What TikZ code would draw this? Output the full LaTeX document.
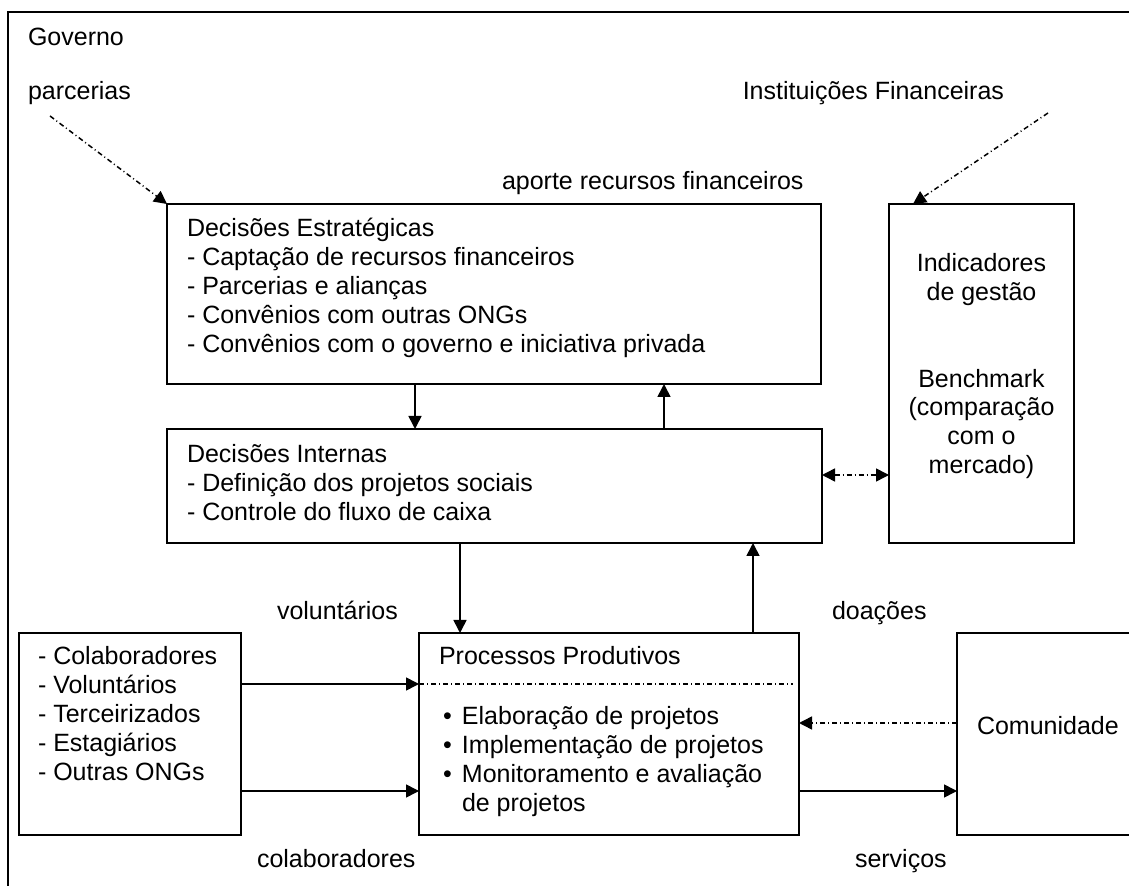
\documentclass[tikz,border=0pt]{standalone}
\usepackage{fontspec}
\setmainfont{Liberation Sans}
\usetikzlibrary{arrows.meta,calc}
\newdimen\pxu \pxu=0.5pt
\begin{document}
\begin{tikzpicture}[x=0.5pt,y=-0.5pt,
  font=\fontsize{12.5pt}{14.4pt}\selectfont,
  box/.style={draw, line width=1pt, inner sep=0pt, outer sep=0pt, anchor=north west},
  txt/.style={inner sep=0pt, outer sep=0pt, anchor=base west},
  ctxt/.style={inner sep=0pt, outer sep=0pt, anchor=base},
  arr/.style={line width=0.8pt, -{Triangle[length=6.5pt,width=6.5pt]}},
  dashdot/.style={line width=0.75pt, dash pattern=on 2.5pt off 1.5pt on 0.5pt off 1.5pt},
  dda/.style={dashdot, -{Triangle[length=6.5pt,width=6.5pt]}},
  ddb/.style={dashdot, {Triangle[length=6.5pt,width=6.5pt]}-{Triangle[length=6.5pt,width=6.5pt]}}]
\useasboundingbox (0,0) rectangle (1129,886);
% outer frame (left and top sides only)
\draw[line width=1pt] (8,886) -- (8,12) -- (1129,12);

% boxes
\node[box, minimum width=654\pxu, minimum height=180\pxu] (de) at (167,204) {};
\node[box, minimum width=655\pxu, minimum height=114\pxu] (di) at (167,429) {};
\node[box, minimum width=185\pxu, minimum height=339\pxu] (ind) at (889,204) {};
\node[box, minimum width=222\pxu, minimum height=202\pxu] (res) at (19,633) {};
\node[box, minimum width=380\pxu, minimum height=202\pxu] (pp) at (419,633) {};
\node[box, minimum width=200\pxu, minimum height=202\pxu] (comu) at (957,633) {};

% free labels
\node[txt] (gov) at (28,46) {Governo};
\node[txt] (parc) at (28,100) {parcerias};
\node[inner sep=0pt, outer sep=0pt, anchor=base east] (instf) at (1004,100) {Instituições Financeiras};
\node[txt] (aporte) at (502,190) {aporte recursos financeiros};
\node[txt] (volun) at (277,620) {voluntários};
\node[txt] (doac) at (832,620) {doações};
\node[txt] (colab) at (257,867) {colaboradores};
\node[txt] (serv) at (855,867) {serviços};

% box texts
\node[txt] (detxt) at (187,237) {\begin{tabular}[t]{@{}l@{}}
Decisões Estratégicas\\
- Captação de recursos financeiros\\
- Parcerias e alianças\\
- Convênios com outras ONGs\\
- Convênios com o governo e iniciativa privada
\end{tabular}};
\node[txt] (ditxt) at (187,463) {\begin{tabular}[t]{@{}l@{}}
Decisões Internas\\
- Definição dos projetos sociais\\
- Controle do fluxo de caixa
\end{tabular}};
\node[ctxt] (indtxt) at (981.5,272) {\begin{tabular}[t]{@{}c@{}}
Indicadores\\
de gestão\\
\\
\\
Benchmark\\
(comparação\\
com o\\
mercado)
\end{tabular}};
\node[txt] (restxt) at (38,665) {\begin{tabular}[t]{@{}l@{}}
- Colaboradores\\
- Voluntários\\
- Terceirizados\\
- Estagiários\\
- Outras ONGs
\end{tabular}};
\node[txt] (pptitle) at (439,665) {Processos Produtivos};
\node[txt] (pplist) at (443,725) {\begin{tabular}[t]{@{}l@{}}
\makebox[19\pxu][l]{\textbullet}Elaboração de projetos\\
\makebox[19\pxu][l]{\textbullet}Implementação de projetos\\
\makebox[19\pxu][l]{\textbullet}Monitoramento e avaliação\\
\makebox[19\pxu][l]{}de projetos
\end{tabular}};
\node[txt] (comutxt) at (977,734) {Comunidade};

% separator inside Processos Produtivos
\draw[dashdot] ($(pp.north west)+(0,51)$) -- ($(pp.north east)+(-6,51)$);

% connectors
\coordinate (parcstart) at (50,116);
\coordinate (instfstart) at (1048,113);
\draw[dda] (parcstart) -- (de.north west);
\draw[dda] (instfstart) -- ($(ind.north west)+(24,0)$);
\draw[arr] ($(de.south west)+(248,0)$) -- ($(di.north west)+(248,0)$);
\draw[arr] ($(di.north west)+(497,0)$) -- ($(de.south west)+(497,0)$);
\draw[ddb] ($(di.north east)+(0,46)$) -- ($(ind.north west)+(0,271)$);
\draw[arr] ($(di.south west)+(293,0)$) -- ($(pp.north west)+(41,0)$);
\draw[arr] ($(pp.north west)+(334,0)$) -- ($(di.south west)+(586,0)$);
\draw[arr] ($(res.north east)+(0,51)$) -- ($(pp.north west)+(0,51)$);
\draw[arr] ($(res.north east)+(0,158)$) -- ($(pp.north west)+(0,158)$);
\draw[dda] ($(comu.north west)+(0,90)$) -- ($(pp.north east)+(0,90)$);
\draw[arr] ($(pp.north east)+(0,158)$) -- ($(comu.north west)+(0,158)$);
\end{tikzpicture}
\end{document}
